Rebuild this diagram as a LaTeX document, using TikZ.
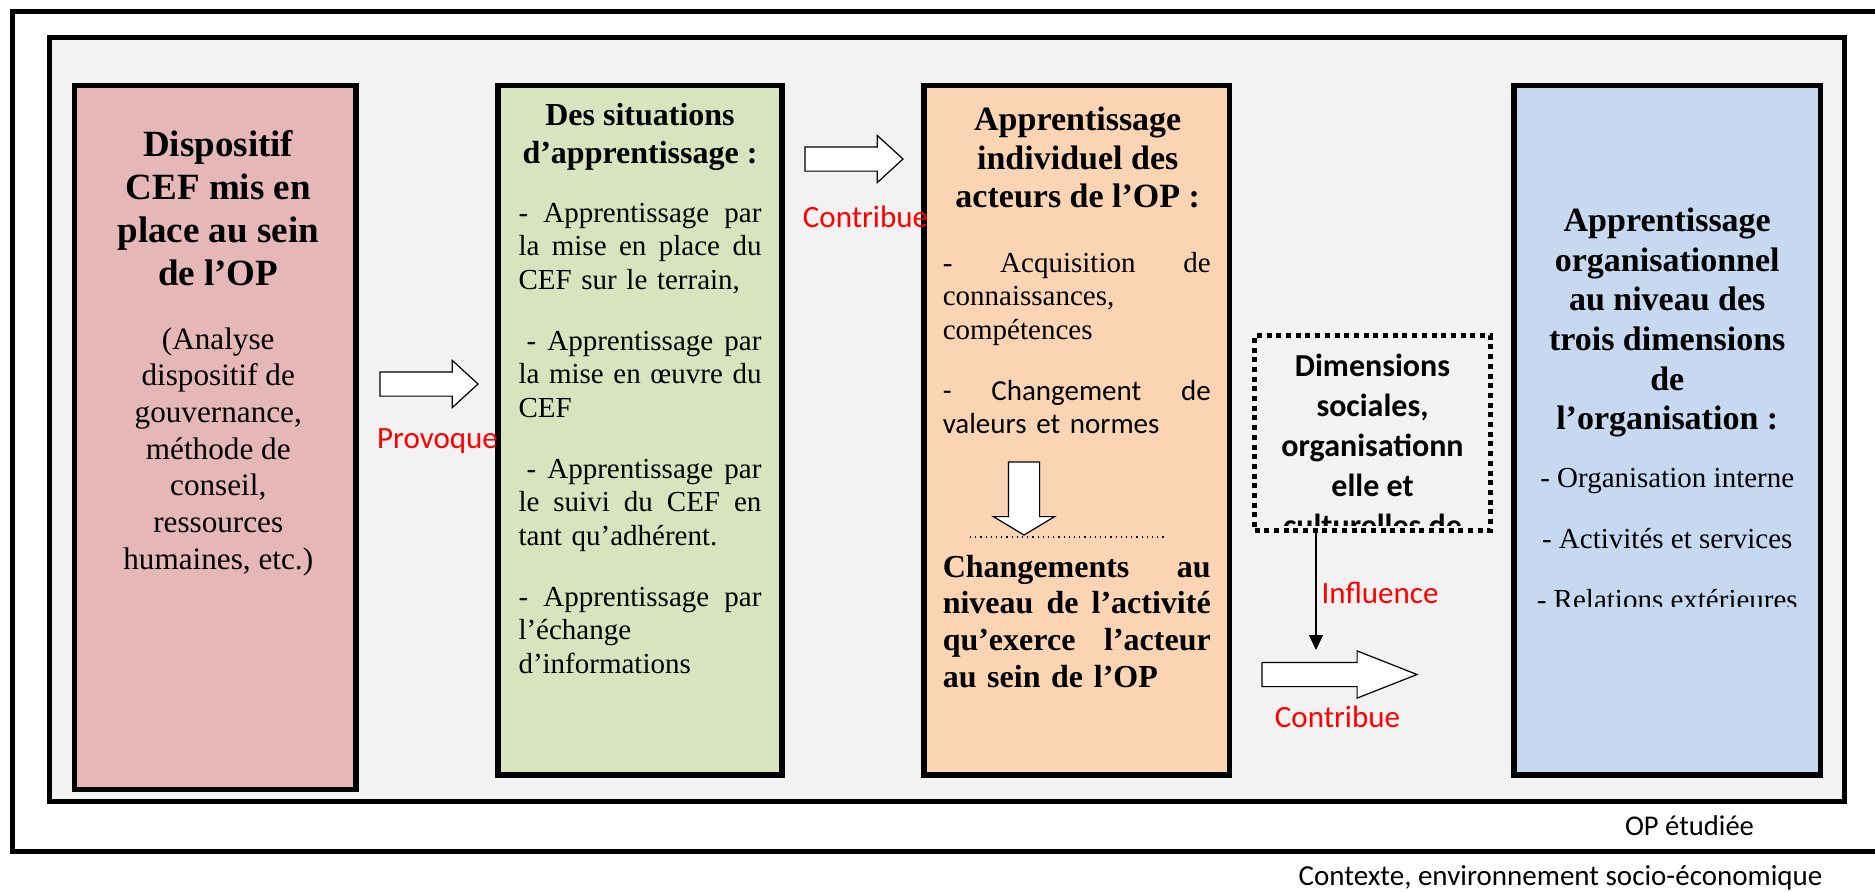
\documentclass[tikz,border=0pt]{standalone}
\usepackage{fontspec}
\setmainfont{Liberation Serif}
\newfontfamily\calib{Carlito}
\usetikzlibrary{positioning,shapes.arrows,arrows.meta}

\definecolor{pinkfill}{HTML}{E5B8B7}
\definecolor{greenfill}{HTML}{D7E4BD}
\definecolor{orangefill}{HTML}{FBD4B4}
\definecolor{bluefill}{HTML}{C6D9F1}
\definecolor{opgray}{HTML}{F2F2F2}

\newcommand{\justln}[2][121.5pt]{\makebox[#1]{#2}}

\begin{document}
\begin{tikzpicture}[x=0.5pt,y=-0.5pt,>={Triangle[width=7pt,length=7.5pt]},
    opframe/.style={draw,line width=2.5pt,inner sep=0pt,outer sep=0pt},
    main box/.style={draw,line width=2.8pt,inner sep=0pt,outer sep=0pt,minimum height=344.75pt},
    txt/.style={inner sep=0pt,outer sep=0pt},
    big arrow/.style={single arrow,draw,fill=white,line width=0.6pt,inner xsep=0pt,inner ysep=5.75pt,
      outer sep=0pt,minimum width=23pt,single arrow head extend=5.75pt,anchor=tail},
    redlabel/.style={txt,text=red,font=\calib\fontsize{15.5}{18}\selectfont}]

    \useasboundingbox (0,0) rectangle (1875,891);

    % Context and studied OP
    \node[opframe,fill=white,minimum width=946.25pt,minimum height=420pt] (ctx) at (958.75,431) {};
    \node[opframe,fill=opgray,minimum width=897.5pt,minimum height=382pt] (op) at (947,419.5) {};

    % Dispositif CEF
    \node[main box,fill=pinkfill,minimum width=140.75pt,minimum height=352pt] (cef) at (215.25,437.5) {};
    \node[txt,align=center,font=\bfseries\fontsize{18.5}{21.5}\selectfont,
      below=22.25pt of cef.north,xshift=1.5pt] (cefT) {Dispositif\\ CEF mis en\\ place au sein\\ de l’OP};
    \node[txt,align=center,font=\fontsize{15.6}{18.35}\selectfont,
      below=121pt of cef.north,xshift=1.5pt] (cefB) {(Analyse\\ dispositif de\\ gouvernance,\\ méthode de\\ conseil,\\ ressources\\ humaines, etc.)};

    % Situations d'apprentissage
    \node[main box,fill=greenfill,minimum width=142pt] (sit) at (640,430.25) {};
    \node[txt,align=center,font=\bfseries\fontsize{16}{19}\selectfont,
      below=8.75pt of sit.north] (sitT) {Des situations\\ d’apprentissage :};
    \node[txt,text width=121.5pt,align=left,font=\fontsize{14.5}{16.7}\selectfont,
      below=58.75pt of sit.north] (sitB) {\justln{-\hfill Apprentissage\hfill par}\\
      \justln{la\hfill mise\hfill en\hfill place\hfill du}\\ CEF sur le terrain,\\[13.9pt]
      \justln{\hspace*{4pt}-\hfill Apprentissage\hfill par}\\ \justln{la\hfill mise\hfill en\hfill œuvre\hfill du}\\ CEF\\[13.9pt]
      \justln{\hspace*{4pt}-\hfill Apprentissage\hfill par}\\ \justln{le\hfill suivi\hfill du\hfill CEF\hfill en}\\ tant qu’adhérent.\\[13.9pt]
      \justln{-\hfill Apprentissage\hfill par}\\ l’échange\\ d’informations};

    % Apprentissage individuel
    \node[main box,fill=orangefill,minimum width=152.75pt] (indiv) at (1076.75,430.25) {};
    \node[txt,align=center,font=\bfseries\fontsize{17}{19.25}\selectfont,
      below=10.75pt of indiv.north,xshift=0.5pt] (indivT) {Apprentissage\\ individuel des\\ acteurs de l’OP :};
    \node[txt,text width=134pt,align=left,font=\fontsize{14.5}{16.75}\selectfont,
      below=83.25pt of indiv.north] (indivB) {\justln[134pt]{-\hfill Acquisition\hfill de}\\ connaissances,\\ compétences\\[13.75pt]
      \calib\justln[134pt]{-\hfill Changement\hfill de}\\ valeurs et normes};
    \node[big arrow,minimum width=30pt,minimum height=36.5pt,inner sep=7.5pt,single arrow head extend=7.5pt,
      single arrow tip angle=118,shape border rotate=270] (downA) at (1024,462) {};
    \coordinate (sepL) at (970,537);
    \coordinate (sepR) at (1167,537);
    \draw[dotted,line width=0.6pt] (sepL) -- (sepR);
    \node[txt,text width=134pt,align=left,font=\bfseries\fontsize{16}{18.35}\selectfont,
      below=234.75pt of indiv.north] (indivC) {\justln[134pt]{Changements\hfill au}\\
      \justln[134pt]{niveau\hfill de\hfill l’activité}\\
      \justln[134pt]{qu’exerce\hfill l’acteur}\\ au sein de l’OP};

    % Apprentissage organisationnel
    \node[main box,fill=bluefill,minimum width=153.25pt] (orga) at (1667.25,430.25) {};
    \node[txt,align=center,font=\bfseries\fontsize{17}{19.8}\selectfont,
      below=61.25pt of orga.north] (orgaT) {Apprentissage\\ organisationnel\\ au niveau des\\ trois dimensions\\ de\\ l’organisation :};
    \begin{scope}
      \clip (1517,88) rectangle (1818,606);
      \node[txt,align=center,font=\fontsize{14.5}{16.75}\selectfont,
        below=191.25pt of orga.north] (orgaB) {- Organisation interne\\[13.75pt] - Activités et services\\[13.75pt] - Relations extérieures};
    \end{scope}

    % Dimensions sociales
    \node[draw,line width=2.5pt,dash pattern=on 2.5pt off 2.35pt,inner sep=0pt,outer sep=0pt,
      minimum width=118pt,minimum height=97.5pt] (dims) at (1372.5,433) {};
    \begin{scope}
      \clip (1257,338) rectangle (1488,525);
      \node[txt,align=center,font=\calib\bfseries\fontsize{16}{20}\selectfont,
        below=9.5pt of dims.north] (dimsT) {Dimensions\\ sociales,\\ organisationn\\ elle et\\ culturelles de};
    \end{scope}

    % Arrows between the boxes
    \node[big arrow,minimum height=49pt,single arrow tip angle=85] (provA) at (380,384) {};
    \node[big arrow,minimum height=49pt,single arrow tip angle=85] (contA) at (805,159) {};
    \node[big arrow,minimum height=77.5pt,single arrow tip angle=43] (contB) at (1262,674.5) {};
    \coordinate (inftip) at (1316,650);
    \draw[->,line width=0.6pt] (dims.south -| inftip) -- (inftip);

    % Labels
    \node[redlabel] (provT) at (437.5,441) {Provoque};
    \node[redlabel] (contTA) at (865.5,217) {Contribue};
    \node[redlabel] (inflT) at (1380,593) {Influence};
    \node[redlabel] (contTB) at (1337.5,717) {Contribue};
    \node[txt,font=\calib\fontsize{14.3}{17}\selectfont] (opT) at (1689.5,826) {OP étudiée};
    \node[txt,font=\calib\fontsize{14.5}{17}\selectfont] (ctxT) at (1560.5,878) {Contexte, environnement socio-économique};
\end{tikzpicture}
\end{document}
